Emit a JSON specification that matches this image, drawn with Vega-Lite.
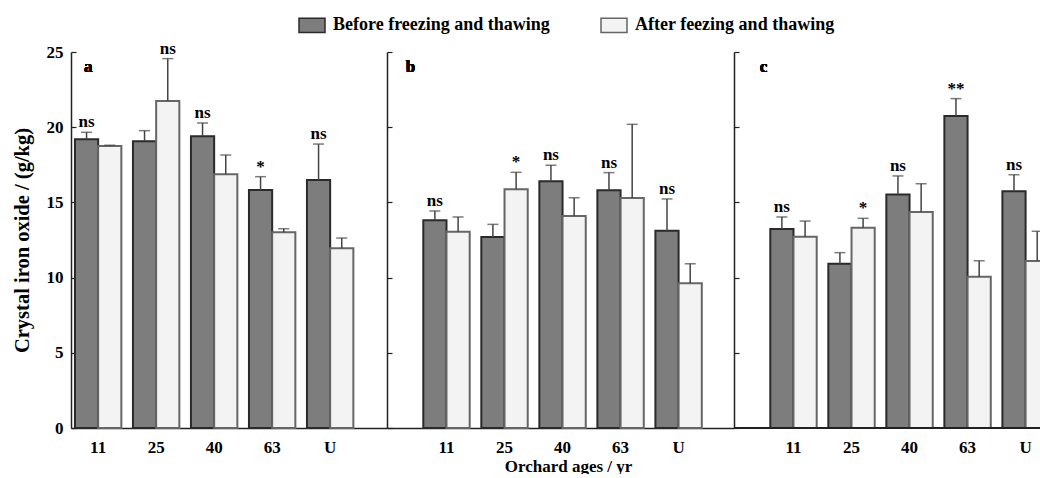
{
  "$schema": "https://vega.github.io/schema/vega-lite/v6.json",
  "padding": {"left": 12, "top": 11, "right": 0, "bottom": 0},
  "background": "white",
  "config": {
    "view": {"stroke": null},
    "font": "Liberation Serif",
    "axis": {"labelFont": "Liberation Serif", "titleFont": "Liberation Serif", "labelColor": "#000", "titleColor": "#000", "domainColor": "#222", "tickColor": "#222", "domainWidth": 1.5, "tickWidth": 1.2, "grid": false}
  },
  "data": {"values": [
    {"panel": "a", "age": "11", "series": "Before freezing and thawing", "value": 19.2, "upper": 19.66, "sig": "ns"},
    {"panel": "a", "age": "11", "series": "After feezing and thawing", "value": 18.75, "upper": 18.8, "sig": ""},
    {"panel": "a", "age": "25", "series": "Before freezing and thawing", "value": 19.06, "upper": 19.77, "sig": ""},
    {"panel": "a", "age": "25", "series": "After feezing and thawing", "value": 21.74, "upper": 24.56, "sig": "ns"},
    {"panel": "a", "age": "40", "series": "Before freezing and thawing", "value": 19.4, "upper": 20.28, "sig": "ns"},
    {"panel": "a", "age": "40", "series": "After feezing and thawing", "value": 16.87, "upper": 18.15, "sig": ""},
    {"panel": "a", "age": "63", "series": "Before freezing and thawing", "value": 15.82, "upper": 16.71, "sig": "*"},
    {"panel": "a", "age": "63", "series": "After feezing and thawing", "value": 13.01, "upper": 13.25, "sig": ""},
    {"panel": "a", "age": "U", "series": "Before freezing and thawing", "value": 16.49, "upper": 18.88, "sig": "ns"},
    {"panel": "a", "age": "U", "series": "After feezing and thawing", "value": 11.95, "upper": 12.63, "sig": ""},
    {"panel": "b", "age": "11", "series": "Before freezing and thawing", "value": 13.81, "upper": 14.43, "sig": "ns"},
    {"panel": "b", "age": "11", "series": "After feezing and thawing", "value": 13.05, "upper": 14.03, "sig": ""},
    {"panel": "b", "age": "25", "series": "Before freezing and thawing", "value": 12.7, "upper": 13.54, "sig": ""},
    {"panel": "b", "age": "25", "series": "After feezing and thawing", "value": 15.87, "upper": 17.0, "sig": "*"},
    {"panel": "b", "age": "40", "series": "Before freezing and thawing", "value": 16.4, "upper": 17.47, "sig": "ns"},
    {"panel": "b", "age": "40", "series": "After feezing and thawing", "value": 14.1, "upper": 15.31, "sig": ""},
    {"panel": "b", "age": "63", "series": "Before freezing and thawing", "value": 15.8, "upper": 16.98, "sig": "ns"},
    {"panel": "b", "age": "63", "series": "After feezing and thawing", "value": 15.29, "upper": 20.19, "sig": ""},
    {"panel": "b", "age": "U", "series": "Before freezing and thawing", "value": 13.12, "upper": 15.23, "sig": "ns"},
    {"panel": "b", "age": "U", "series": "After feezing and thawing", "value": 9.62, "upper": 10.92, "sig": ""},
    {"panel": "c", "age": "11", "series": "Before freezing and thawing", "value": 13.23, "upper": 14.03, "sig": "ns"},
    {"panel": "c", "age": "11", "series": "After feezing and thawing", "value": 12.72, "upper": 13.76, "sig": ""},
    {"panel": "c", "age": "25", "series": "Before freezing and thawing", "value": 10.92, "upper": 11.66, "sig": ""},
    {"panel": "c", "age": "25", "series": "After feezing and thawing", "value": 13.32, "upper": 13.94, "sig": "*"},
    {"panel": "c", "age": "40", "series": "Before freezing and thawing", "value": 15.53, "upper": 16.76, "sig": "ns"},
    {"panel": "c", "age": "40", "series": "After feezing and thawing", "value": 14.36, "upper": 16.24, "sig": ""},
    {"panel": "c", "age": "63", "series": "Before freezing and thawing", "value": 20.74, "upper": 21.9, "sig": "**"},
    {"panel": "c", "age": "63", "series": "After feezing and thawing", "value": 10.06, "upper": 11.12, "sig": ""},
    {"panel": "c", "age": "U", "series": "Before freezing and thawing", "value": 15.74, "upper": 16.84, "sig": "ns"},
    {"panel": "c", "age": "U", "series": "After feezing and thawing", "value": 11.1, "upper": 13.08, "sig": ""}
  ]},
  "spacing": 0,
  "bounds": "flush",
  "resolve": {"scale": {"x": "independent", "y": "independent", "fill": "shared", "stroke": "shared"}},
  "hconcat": [
    {
      "width": 316, "height": 376,
      "transform": [{"filter": "datum.panel === 'a'"}],
      "encoding": {
        "x": {"field": "age", "type": "nominal", "sort": ["11", "25", "40", "63", "U"], "scale": {"paddingInner": 0.2, "paddingOuter": 0.324, "align": 0.105},
          "axis": {"title": null, "labelAngle": 0, "ticks": false, "labelPadding": 11, "labelFontSize": 17, "labelFontWeight": "bold"}},
        "xOffset": {"field": "series", "type": "nominal", "sort": ["Before freezing and thawing", "After feezing and thawing"]}
      },
      "layer": [
        {"mark": {"type": "bar", "strokeWidth": 2},
          "encoding": {
            "y": {"field": "value", "type": "quantitative", "scale": {"domain": [0, 25], "nice": false},
              "axis": {"title": "Crystal iron oxide / (g/kg)", "values": [0, 5, 10, 15, 20, 25], "tickSize": -5, "labelPadding": 13, "labelFontSize": 17, "labelFontWeight": "bold", "titleFontSize": 20.5, "titleFontWeight": "bold", "titlePadding": 14}},
            "fill": {"field": "series", "type": "nominal", "sort": ["Before freezing and thawing", "After feezing and thawing"],
              "scale": {"domain": ["Before freezing and thawing", "After feezing and thawing"], "range": ["#7d7d7d", "#f3f3f3"]},
              "legend": {"orient": "none", "legendX": 227, "legendY": -41, "direction": "horizontal", "title": null, "symbolType": "M-1,-0.55H1V0.55H-1Z", "symbolSize": 676, "symbolStrokeWidth": 1.5, "labelFont": "Liberation Serif", "labelFontSize": 18, "labelFontWeight": "bold", "labelColor": "#000", "labelLimit": 500, "columnPadding": 48, "labelOffset": 7}},
            "stroke": {"field": "series", "type": "nominal", "scale": {"domain": ["Before freezing and thawing", "After feezing and thawing"], "range": ["#2a2a2a", "#666666"]}}
          }},
        {"mark": {"type": "rule", "color": "#444", "strokeWidth": 1.5},
          "encoding": {"y": {"field": "value", "type": "quantitative", "title": "Crystal iron oxide / (g/kg)"}, "y2": {"field": "upper"}}},
        {"mark": {"type": "tick", "color": "#444", "thickness": 1.5, "size": 11},
          "encoding": {"y": {"field": "upper", "type": "quantitative", "title": "Crystal iron oxide / (g/kg)"}}},
        {"transform": [{"filter": "datum.sig !== ''"}],
          "mark": {"type": "text", "baseline": "bottom", "dy": -1, "font": "Liberation Serif", "fontSize": 17, "fontWeight": "bold", "color": "#000"},
          "encoding": {"y": {"field": "upper", "type": "quantitative", "title": "Crystal iron oxide / (g/kg)"}, "text": {"field": "sig"}}},
        {"mark": {"type": "text", "text": "a", "baseline": "middle", "dx": -10, "font": "Liberation Serif", "fontSize": 17, "fontWeight": "bold", "color": "#000"},
          "encoding": {"x": {"datum": "11"}, "xOffset": null, "y": {"datum": 24, "type": "quantitative"}}}
      ]
    },
    {
      "width": 347, "height": 376,
      "transform": [{"filter": "datum.panel === 'b'"}],
      "encoding": {
        "x": {"field": "age", "type": "nominal", "sort": ["11", "25", "40", "63", "U"], "scale": {"paddingInner": 0.2, "paddingOuter": 0.59, "align": 0.53},
          "axis": {"title": "Orchard ages / yr", "titleX": 181, "titlePadding": 3, "titleFontSize": 17, "titleFontWeight": "bold", "labelAngle": 0, "ticks": false, "labelPadding": 11, "labelFontSize": 17, "labelFontWeight": "bold"}},
        "xOffset": {"field": "series", "type": "nominal", "sort": ["Before freezing and thawing", "After feezing and thawing"]}
      },
      "layer": [
        {"mark": {"type": "bar", "strokeWidth": 2},
          "encoding": {
            "y": {"field": "value", "type": "quantitative", "scale": {"domain": [0, 25], "nice": false},
              "axis": {"title": null, "labels": false, "values": [0, 5, 10, 15, 20, 25], "tickSize": -5}},
            "fill": {"field": "series", "type": "nominal", "sort": ["Before freezing and thawing", "After feezing and thawing"]},
            "stroke": {"field": "series", "type": "nominal"}
          }},
        {"mark": {"type": "rule", "color": "#444", "strokeWidth": 1.5},
          "encoding": {"y": {"field": "value", "type": "quantitative", "title": null}, "y2": {"field": "upper"}}},
        {"mark": {"type": "tick", "color": "#444", "thickness": 1.5, "size": 11},
          "encoding": {"y": {"field": "upper", "type": "quantitative", "title": null}}},
        {"transform": [{"filter": "datum.sig !== ''"}],
          "mark": {"type": "text", "baseline": "bottom", "dy": -1, "font": "Liberation Serif", "fontSize": 17, "fontWeight": "bold", "color": "#000"},
          "encoding": {"y": {"field": "upper", "type": "quantitative", "title": null}, "text": {"field": "sig"}}},
        {"mark": {"type": "text", "text": "b", "baseline": "middle", "dx": -36, "font": "Liberation Serif", "fontSize": 17, "fontWeight": "bold", "color": "#000"},
          "encoding": {"x": {"datum": "11"}, "xOffset": null, "y": {"datum": 24, "type": "quantitative"}}}
      ]
    },
    {
      "width": 307, "height": 376,
      "transform": [{"filter": "datum.panel === 'c'"}],
      "encoding": {
        "x": {"field": "age", "type": "nominal", "sort": ["11", "25", "40", "63", "U"], "scale": {"range": [0, 347], "paddingInner": 0.2, "paddingOuter": 0.59, "align": 0.53},
          "axis": {"title": null, "domain": false, "labelAngle": 0, "ticks": false, "labelPadding": 11, "labelFontSize": 17, "labelFontWeight": "bold"}},
        "xOffset": {"field": "series", "type": "nominal", "sort": ["Before freezing and thawing", "After feezing and thawing"]}
      },
      "layer": [
        {"mark": {"type": "bar", "strokeWidth": 2, "clip": true},
          "encoding": {
            "y": {"field": "value", "type": "quantitative", "scale": {"domain": [0, 25], "nice": false},
              "axis": {"title": null, "labels": false, "values": [0, 5, 10, 15, 20, 25], "tickSize": -5}},
            "fill": {"field": "series", "type": "nominal", "sort": ["Before freezing and thawing", "After feezing and thawing"]},
            "stroke": {"field": "series", "type": "nominal"}
          }},
        {"mark": {"type": "rule", "color": "#444", "strokeWidth": 1.5, "clip": true},
          "encoding": {"y": {"field": "value", "type": "quantitative", "title": null}, "y2": {"field": "upper"}}},
        {"mark": {"type": "tick", "color": "#444", "thickness": 1.5, "size": 11, "clip": true},
          "encoding": {"y": {"field": "upper", "type": "quantitative", "title": null}}},
        {"transform": [{"filter": "datum.sig !== ''"}],
          "mark": {"type": "text", "baseline": "bottom", "dy": -1, "font": "Liberation Serif", "fontSize": 17, "fontWeight": "bold", "color": "#000"},
          "encoding": {"y": {"field": "upper", "type": "quantitative", "title": null}, "text": {"field": "sig"}}},
        {"mark": {"type": "text", "text": "c", "baseline": "middle", "dx": -30, "font": "Liberation Serif", "fontSize": 17, "fontWeight": "bold", "color": "#000"},
          "encoding": {"x": {"datum": "11"}, "xOffset": null, "y": {"datum": 24, "type": "quantitative"}}},
        {"mark": {"type": "rule", "color": "#222", "strokeWidth": 1.5},
          "encoding": {"x": null, "xOffset": null, "y": {"datum": 0, "type": "quantitative"}}}
      ]
    }
  ]
}
